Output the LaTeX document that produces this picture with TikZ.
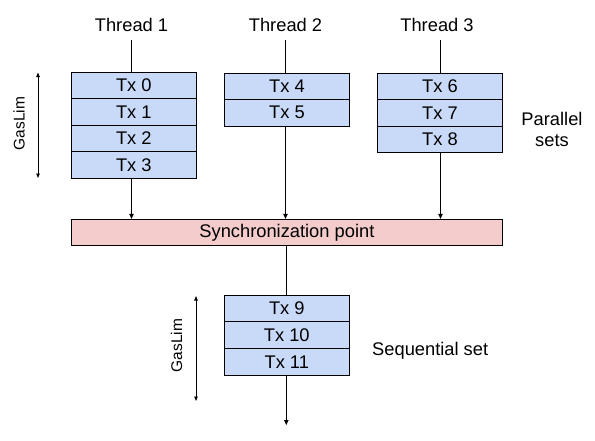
\documentclass[tikz,border=0pt]{standalone}
\usepackage{fontspec}
\setmainfont{Liberation Sans}
\usetikzlibrary{arrows.meta,calc}
\definecolor{txblue}{HTML}{C9DAF8}
\definecolor{syncpink}{HTML}{F4CCCC}
\tikzset{
  txcell/.style={draw=black, line width=0.9pt, fill=txblue, minimum width=125pt, minimum height=26.5pt, inner sep=0pt, font=\fontsize{18.3}{21.7}\selectfont},
  syncbox/.style={draw=black, line width=0.9pt, fill=syncpink, minimum width=431.2pt, minimum height=26pt, inner sep=0pt, font=\fontsize{18.3}{21.7}\selectfont},
  lbl/.style={inner sep=0pt, font=\fontsize{18.3}{21.7}\selectfont},
  gaslbl/.style={inner sep=0pt, rotate=90, font=\fontsize{15.5}{18}\selectfont},
  conn/.style={line width=0.9pt},
  flow/.style={line width=0.9pt, -{Triangle[length=5pt,width=4.5pt]}},
  span/.style={line width=0.8pt, {Triangle[length=4.5pt,width=3.5pt]}-{Triangle[length=4.5pt,width=3.5pt]}}
}
\begin{document}
\begin{tikzpicture}[x=1pt,y=-1pt]
\useasboundingbox (0,0) rectangle (595,440);
% thread labels
\node[lbl] (th1) at (131.5,24.5) {Thread 1};
\node[lbl] (th2) at (285.5,24.5) {Thread 2};
\node[lbl] (th3) at (437,24.5) {Thread 3};
\coordinate (c1) at (131.5,40);
\coordinate (c2) at (285.5,40);
\coordinate (c3) at (440.5,40);
% column 1
\node[txcell] (tx0) at (133.8,85.5) {Tx 0};
\node[txcell] (tx1) at (133.8,112) {Tx 1};
\node[txcell] (tx2) at (133.8,138.5) {Tx 2};
\node[txcell] (tx3) at (133.8,165) {Tx 3};
% column 2
\node[txcell] (tx4) at (287,86.25) {Tx 4};
\node[txcell] (tx5) at (287,112.75) {Tx 5};
% column 3
\node[txcell] (tx6) at (440,86.25) {Tx 6};
\node[txcell] (tx7) at (440,112.75) {Tx 7};
\node[txcell] (tx8) at (440,139.25) {Tx 8};
% sync
\node[syncbox] (sync) at (286.9,232.3) {Synchronization point};
% sequential
\node[txcell] (tx9) at (286.8,308.3) {Tx 9};
\node[txcell] (tx10) at (286.8,335) {Tx 10};
\node[txcell] (tx11) at (286.8,361.7) {Tx 11};
\coordinate (end) at (286.3,425);
% connectors
\draw[conn] (c1) -- (c1 |- tx0.north);
\draw[conn] (c2) -- (c2 |- tx4.north);
\draw[conn] (c3) -- (c3 |- tx6.north);
\draw[flow] (c1 |- tx3.south) -- (c1 |- sync.north);
\draw[flow] (c2 |- tx5.south) -- (c2 |- sync.north);
\draw[flow] (c3 |- tx8.south) -- (c3 |- sync.north);
\draw[conn] (end |- sync.south) -- (end |- tx9.north);
\draw[flow] (end |- tx11.south) -- (end);
% gas limits
\coordinate (g1a) at (38,72.5);
\coordinate (g1b) at (38,178);
\draw[span] (g1a) -- (g1b);
\node[gaslbl] (gl1) at (19,123.5) {GasLim};
\coordinate (g2a) at (196,296);
\coordinate (g2b) at (196,401);
\draw[span] (g2a) -- (g2b);
\node[gaslbl] (gl2) at (176.7,345.5) {GasLim};
% side labels
\node[lbl, align=center, anchor=north] (par) at (552,111.6) {Parallel\\sets};
\node[lbl, anchor=base west] (seq) at (372,355) {Sequential set};
\end{tikzpicture}
\end{document}
